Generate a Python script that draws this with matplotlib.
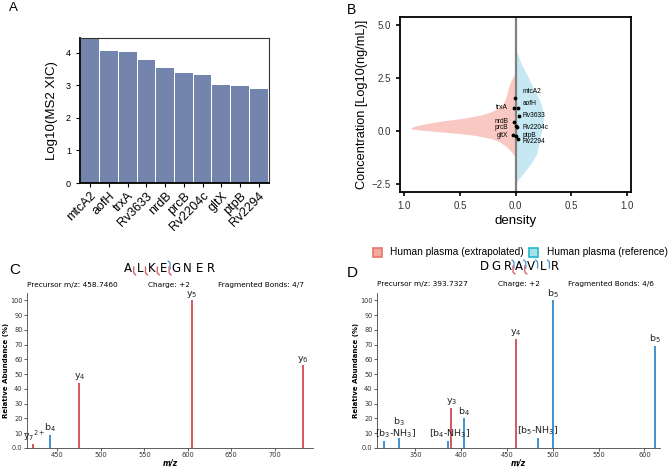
import numpy as np
import matplotlib
matplotlib.use("Agg")
from matplotlib import pyplot as plt
from matplotlib.patches import Rectangle

plt.rcParams["font.family"] = ["Liberation Sans", "DejaVu Sans"]

# %%
# Panel A: MS2 XIC per protein
proteins = ["mtcA2", "aofH", "trxA", "Rv3633", "nrdB", "prcB", "Rv2204c", "gltX", "ptpB", "Rv2294"]
log_xic = [4.6, 4.05, 4.03, 3.77, 3.52, 3.38, 3.32, 3.02, 2.98, 2.90]

# Panel B: density profiles (y = log10 conc, d = density)
extrap_y = [2.80, 2.70, 2.40, 2.00, 1.60, 1.30, 1.10, 0.90, 0.75, 0.60, 0.45, 0.32, 0.22, 0.14,
            0.08, 0.02, -0.08, -0.20, -0.35, -0.50, -0.75, -1.00, -1.25]
extrap_d = [0.0, 0.005, 0.04, 0.065, 0.085, 0.11, 0.15, 0.22, 0.31, 0.47, 0.68, 0.83, 0.91, 0.945,
            0.93, 0.82, 0.60, 0.38, 0.23, 0.15, 0.08, 0.035, 0.0]
ref_y = [3.85, 3.65, 3.20, 2.70, 2.25, 1.75, 1.30, 0.80, 0.35, -0.10, -0.60, -1.10, -1.55, -1.95, -2.35, -2.55]
ref_d = [0.0, 0.02, 0.05, 0.10, 0.14, 0.19, 0.23, 0.25, 0.25, 0.23, 0.21, 0.19, 0.14, 0.08, 0.02, 0.0]
legend_labels = ["Human plasma (extrapolated)", "Human plasma (reference)"]

pt_names = ["mtcA2", "trxA", "aofH", "Rv3633", "nrdB", "prcB", "Rv2204c", "gltX", "ptpB", "Rv2294"]
pt_x = [-0.005, -0.012, 0.022, 0.033, -0.015, 0.008, 0.015, -0.02, 0.008, 0.025]
pt_y = [1.57, 1.07, 1.07, 0.72, 0.43, 0.24, 0.18, -0.18, -0.26, -0.37]

# Panel C: ALKEGNER spectrum
c_mz = [421.9, 441.2, 475.2, 604.3, 732.0]
c_int = [3, 9, 44, 100, 56]
c_lab = ["y$_7$$^{2+}$", "b$_4$", "y$_4$", "y$_5$", "y$_6$"]
c_kind = ["y", "b", "y", "y", "y"]

# Panel D: DGRAVLR spectrum
d_mz = [315.6, 331.8, 385.5, 389.1, 402.5, 459.8, 483.4, 500.4, 611.6]
d_int = [5, 7, 5, 27, 20, 74, 7, 100, 69]
d_lab = ["[b$_3$-NH$_3$]", "b$_3$", "[b$_4$-NH$_3$]", "y$_3$", "b$_4$", "y$_4$", "[b$_5$-NH$_3$]", "b$_5$", "b$_5$"]
d_kind = ["b", "b", "b", "y", "b", "y", "b", "b", "b"]

# %%
W, H = 669, 467
fig = plt.figure(figsize=(W / 100, H / 100), dpi=100)

def box(x0, y0, x1, y1):
    return [x0 / W, 1 - y1 / H, (x1 - x0) / W, (y1 - y0) / H]

# ---- A
axA = fig.add_axes(box(80, 38, 269, 183))
axA.bar(range(len(proteins)), log_xic, width=0.94, color="#7485AD", edgecolor="none")
axA.set_xlim(-0.55, len(proteins) - 0.45)
axA.set_ylim(0, 4.45)
axA.set_yticks([0, 1, 2, 3, 4])
axA.set_xticks(range(len(proteins)))
axA.set_xticklabels(proteins, rotation=45, ha="right", rotation_mode="anchor", fontsize=9)
axA.tick_params(axis="y", labelsize=6.5, length=3, direction="out")
axA.tick_params(axis="x", length=3, direction="out", pad=2)
axA.set_ylabel("Log10(MS2 XIC)", fontsize=9.5, labelpad=6)
for s in ["left", "bottom"]:
    axA.spines[s].set_linewidth(1.3)
for s in ["top", "right"]:
    axA.spines[s].set_linewidth(0.8)
    axA.spines[s].set_color("#333333")

# ---- B
axB = fig.add_axes(box(400, 17, 631, 192))
axB.fill_betweenx(extrap_y, [-d for d in extrap_d], 0, color="#F9C8C2", lw=0)
axB.fill_betweenx(ref_y, 0, ref_d, color="#C6E8F2", lw=0)
axB.axvline(0, color="#808080", lw=1.6)
axB.scatter(pt_x, pt_y, s=3, color="black", zorder=3)
lab_y = [1.87, 1.13, 1.29, 0.71, 0.43, 0.15, 0.18, -0.21, -0.24, -0.50]
for name, x, ly in zip(pt_names, pt_x, lab_y):
    if name in ("trxA", "nrdB", "prcB", "gltX"):
        axB.text(-0.066, ly, name, fontsize=4.8, ha="right", va="center")
    else:
        axB.text(0.063, ly, name, fontsize=4.8, ha="left", va="center")
axB.set_xlim(-1.04, 1.04)
axB.set_ylim(-2.9, 5.4)
axB.set_xticks([-1, -0.5, 0, 0.5, 1])
axB.set_xticklabels(["1.0", "0.5", "0.0", "0.5", "1.0"])
axB.set_yticks([-2.5, 0, 2.5, 5.0])
axB.set_yticklabels(["\u22122.5", "0.0", "2.5", "5.0"])
axB.tick_params(labelsize=7, length=3, width=1.2, direction="out", colors="black", labelcolor="#333333")
axB.set_xlabel("density", fontsize=9.5, labelpad=3)
axB.set_ylabel("Concentration [Log10(ng/mL)]", fontsize=9.2, labelpad=3)
for s in axB.spines.values():
    s.set_linewidth(1.3)

# ---- C & D spectra
RED, BLUE = "#D4575F", "#3F93D2"
SPEC_FONT = ["DejaVu Sans"]

def spectrum(ax, mz, inten, labels, kinds, xlim, xticks, lab_dx, lab_dy):
    for m, v, lab, k, dx, dy in zip(mz, inten, labels, kinds, lab_dx, lab_dy):
        col = RED if k == "y" else BLUE
        ax.vlines(m, 0, v, color=col, lw=1.4)
        ax.text(m + dx, v + 0.5 + dy, lab, fontsize=6.8, ha="center", va="bottom",
                color="#222222", family=SPEC_FONT)
    ax.set_xlim(*xlim)
    ax.set_ylim(0, 105)
    ax.set_yticks([0, 10, 20, 30, 40, 50, 60, 70, 80, 90, 100])
    ax.set_yticklabels(["0.0"] + [str(v) for v in range(10, 101, 10)], family=SPEC_FONT)
    ax.set_xticks(xticks)
    ax.set_xticklabels([str(v) for v in xticks], family=SPEC_FONT)
    ax.tick_params(labelsize=4.8, length=2, width=0.6, colors="#444444", labelcolor="#333333", pad=1.2)
    ax.spines["top"].set_visible(False)
    ax.spines["right"].set_visible(False)
    for s in ["left", "bottom"]:
        ax.spines[s].set_linewidth(0.6)
        ax.spines[s].set_color("#444444")
    ax.set_ylabel("Relative Abundance (%)", fontsize=5, fontweight="bold", labelpad=1, family=SPEC_FONT)
    ax.set_xlabel("m/z", fontsize=5.5, fontweight="bold", fontstyle="italic", labelpad=0, family=SPEC_FONT)

axC = fig.add_axes(box(27, 293, 313, 448))
spectrum(axC, c_mz, c_int, c_lab, c_kind, (415, 744), [450, 500, 550, 600, 650, 700],
         [2, 0, 0, 0, 0], [0, 0, 0, 0, 0])
axD = fig.add_axes(box(377, 293, 660, 448))
spectrum(axD, d_mz, d_int, d_lab, d_kind, (308, 617), [350, 400, 450, 500, 550, 600],
         [12.5, 0, 1.5, 0, 0, 0, 0, 0, 0], [0, 6, 0, 0, 0, 0, 0, 0, 0])

# ---- overlay: panel letters, legend, peptide headers
ov = fig.add_axes([0, 0, 1, 1])
ov.set_xlim(0, W)
ov.set_ylim(H, 0)
ov.axis("off")
for lab, x, y, fs in [("A", 13, 8, 9.5), ("B", 351, 10, 10), ("C", 15, 270, 11), ("D", 352, 273, 11)]:
    ov.text(x, y, lab, fontsize=fs, ha="center", va="center")

# legend of panel B (drawn by hand so it sits where the reference has it)
for (fc, ec), xp, xt, txt in zip([("#F4A9A0", "#E8756B"), ("#A8E0EA", "#1FB8C8")],
                                 [373, 529], [390, 547], legend_labels):
    ov.add_patch(Rectangle((xp, 247.5), 9, 9, facecolor=fc, edgecolor=ec, lw=1.2))
    ov.text(xt, 252, txt, fontsize=7.3, ha="left", va="center")

def peptide(seq, x0, y, b_after, y_after, info):
    step = 11.8
    for i, ch in enumerate(seq):
        ov.text(x0 + i * step, y, ch, fontsize=8.5, ha="center", va="center", family=SPEC_FONT)
    for i in b_after:
        xb = x0 + (i + 0.5) * step
        ov.plot([xb - 1.5, xb + 0.5, xb + 0.5], [y - 7, y - 5, y + 1], color=BLUE, lw=0.9)
    for i in y_after:
        xb = x0 + (i + 0.5) * step
        ov.plot([xb - 0.5, xb - 0.5, xb + 1.5], [y - 1, y + 5, y + 7], color=RED, lw=0.9)
    for txt, xt in info:
        ov.text(xt, y + 17, txt, fontsize=5.3, ha="center", va="center", family=SPEC_FONT)

peptide("ALKEGNER", 128.3, 268, [3], [0, 1, 2, 3],
        [("Precursor m/z: 458.7460", 72), ("Charge: +2", 169.5), ("Fragmented Bonds: 4/7", 261)])
peptide("DGRAVLR", 484, 267, [2, 3, 4, 5], [2, 3],
        [("Precursor m/z: 393.7327", 422), ("Charge: +2", 519), ("Fragmented Bonds: 4/6", 611)])

plt.savefig("out.png", dpi=100)
